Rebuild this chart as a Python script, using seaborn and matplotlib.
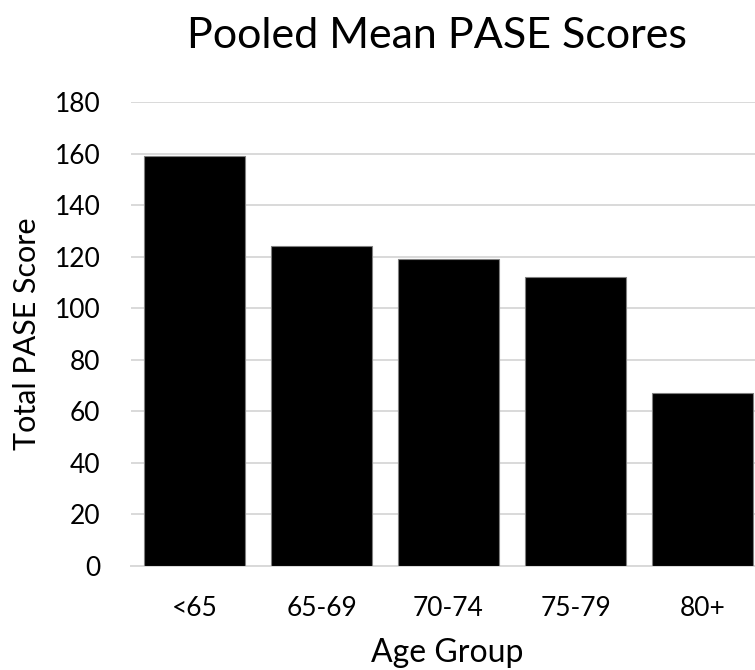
import matplotlib
matplotlib.use("Agg")
import matplotlib.pyplot as plt
import seaborn as sns
import pandas as pd

age_groups = ["<65", "65-69", "70-74", "75-79", "80+"]
pase_scores = [159, 124, 119, 112, 67]
y_ticks = [0, 20, 40, 60, 80, 100, 120, 140, 160, 180]

sns.set_theme(style="white")
plt.rcParams["font.family"] = ["Lato", "DejaVu Sans"]
plt.rcParams["text.color"] = "black"
plt.rcParams["axes.labelcolor"] = "black"

df = pd.DataFrame({"Age Group": age_groups, "Score": pase_scores})

W, H = 755, 670
fig = plt.figure(figsize=(W / 100, H / 100), dpi=100)
ax = fig.add_axes([131 / W, (H - 565.6) / H, 635 / W, (565.6 - 102) / H])

sns.barplot(data=df, x="Age Group", y="Score", color="black", width=0.79,
            edgecolor="#808080", linewidth=0.8, saturation=1, ax=ax, zorder=3)

ax.set_ylim(0, 180)
ax.set_xlim(-0.5, 4.5)
ax.set_yticks(y_ticks)
ax.set_yticklabels([str(v) for v in y_ticks])
ax.yaxis.grid(True, color="#d9d9d9", linewidth=1.4, zorder=0)
ax.set_axisbelow(True)
for side in ["top", "right", "left"]:
    ax.spines[side].set_visible(False)
ax.spines["bottom"].set_color("#d9d9d9")
ax.spines["bottom"].set_linewidth(1.4)
ax.tick_params(axis="both", length=0, labelsize=19, colors="black")
ax.tick_params(axis="x", pad=22)
ax.tick_params(axis="y", pad=22)

ax.set_xlabel("Age Group", fontsize=23)
ax.xaxis.set_label_coords(0.4976, -0.157)
ax.set_ylabel("Total PASE Score", fontsize=22)
ax.yaxis.set_label_coords(-0.1417, 0.5)

fig.text(437 / W, 1 - 48 / H, "Pooled Mean PASE Scores",
         fontsize=31, ha="center", va="baseline")

fig.savefig("out.png", dpi=100)
